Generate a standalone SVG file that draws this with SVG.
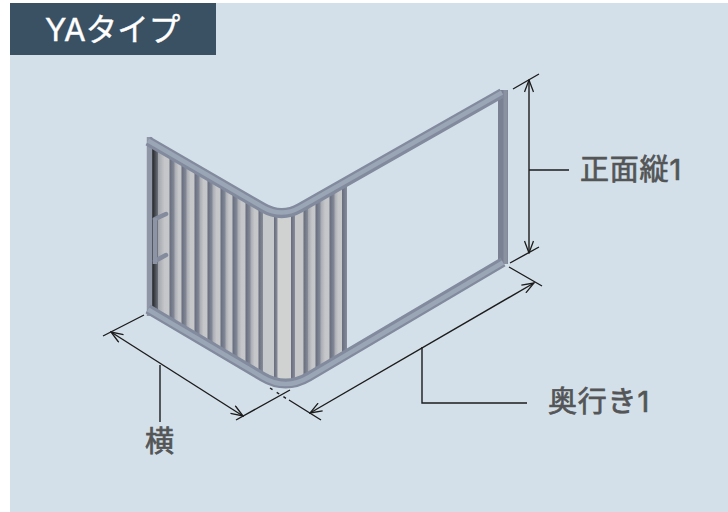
<svg xmlns="http://www.w3.org/2000/svg" width="728" height="512" viewBox="0 0 728 512">
<style>
.lbl{font-family:Inter,"Noto Sans CJK JP","Noto Sans",sans-serif;font-size:29px;font-weight:400;letter-spacing:.8px;fill:#535557;stroke:#535557;stroke-width:.7}
.ttl{font-family:Inter,"Noto Sans CJK JP","Noto Sans",sans-serif;font-size:31.5px;font-weight:400;fill:#fff;stroke:#fff;stroke-width:.4}
.dim{fill:none;stroke:#1c1c1c;stroke-width:1.4}
.arr{marker-start:url(#a);marker-end:url(#a)}
.pane{fill:url(#pg)}
.slat{fill:url(#sg)}
.f1{fill:none;stroke:#828a9d;stroke-width:10}
.f2{fill:none;stroke:#9aa5b5;stroke-width:4.5}
</style>
<defs>
<marker id="a" viewBox="0 0 14 10" refX="13" refY="5" markerWidth="14" markerHeight="10" markerUnits="userSpaceOnUse" orient="auto-start-reverse"><path d="M1,0.5 L13,5 L1,9.5" fill="none" stroke="#1c1c1c" stroke-width="1.3"/></marker>
<linearGradient id="pg"><stop offset="0" stop-color="#a2a5ac"/><stop offset=".5" stop-color="#c4c6c9"/><stop offset="1" stop-color="#c6c8ca"/></linearGradient>
<linearGradient id="sg"><stop offset="0" stop-color="#666c7c"/><stop offset="1" stop-color="#868c9a"/></linearGradient>
<linearGradient id="dk"><stop offset="0" stop-color="#1f2024"/><stop offset="1" stop-color="#6d717a"/></linearGradient>
<clipPath id="pc"><path d="M150,141 L263,207.7 Q281.4,218.400 300,207.900 L347,181 L347,352 L308.700,376.700 Q285.500,390.300 262.600,376.700 L150,309Z"/></clipPath>
<filter id="b" x="-5%" y="-5%" width="110%" height="110%"><feGaussianBlur stdDeviation="0.5"/></filter>
</defs>
<rect width="728" height="512" fill="#fff"/>
<rect x="10" y="3" width="718" height="509" fill="#d4e0e9"/>
<g id="title"><rect x="10" y="3" width="206" height="52" fill="#3a5163"/><text class="ttl" x="45" y="41">YAタイプ</text></g>
<g id="panel" filter="url(#b)">
<g clip-path="url(#pc)">
<rect x="152" y="130" width="6" height="200" fill="url(#dk)"/>
<rect class="pane" x="158" y="130" width="13" height="270"/>
<rect class="pane" x="174" y="130" width="9" height="270"/>
<rect class="pane" x="186" y="130" width="9" height="270"/>
<rect class="pane" x="199" y="130" width="9" height="270"/>
<rect class="pane" x="212" y="130" width="9" height="270"/>
<rect class="pane" x="225" y="130" width="8" height="270"/>
<rect class="pane" x="237" y="130" width="9" height="270"/>
<rect class="pane" x="250" y="130" width="9" height="270"/>
<rect x="263" y="130" width="12" height="270" fill="#c6c9cb"/>
<rect x="277" y="130" width="15" height="270" fill="#d0d2d1"/>
<rect x="295" y="130" width="9" height="270" fill="#c5c7c9"/>
<rect class="pane" x="308" y="130" width="8" height="270"/>
<rect class="pane" x="320" y="130" width="10" height="270"/>
<rect class="pane" x="334" y="130" width="8" height="270"/>
<rect class="slat" x="169.500" y="130" width="5" height="270"/>
<rect class="slat" x="181.500" y="130" width="5" height="270"/>
<rect class="slat" x="194.500" y="130" width="5" height="270"/>
<rect class="slat" x="207.500" y="130" width="5" height="270"/>
<rect class="slat" x="220.500" y="130" width="5" height="270"/>
<rect class="slat" x="232.500" y="130" width="5" height="270"/>
<rect class="slat" x="245.500" y="130" width="5" height="270"/>
<rect class="slat" x="258.500" y="130" width="4.500" height="270"/>
<rect class="slat" x="274" y="130" width="3.500" height="270"/>
<rect class="slat" x="291" y="130" width="4" height="270"/>
<rect class="slat" x="303.500" y="130" width="4.500" height="270"/>
<rect class="slat" x="315.500" y="130" width="5" height="270"/>
<rect class="slat" x="329.500" y="130" width="5" height="270"/>
<rect class="slat" x="342" y="130" width="5" height="270"/>
</g>
</g>
<g id="frame" filter="url(#b)">
<path d="M149.500,137 V316" fill="none" stroke="#8f96a5" stroke-width="5.500"/>
<path d="M503,90 V264" fill="none" stroke="#7a8192" stroke-width="10"/>
<path d="M505.500,90 V264" fill="none" stroke="#8a919f" stroke-width="4"/>
<path class="f1" d="M148,141 L263,207.700 Q281.400,218.400 300,207.900 L502,93"/>
<path class="f2" transform="translate(0,-0.500)" d="M148,141 L263,207.700 Q281.400,218.400 300,207.900 L502,93"/>
<path class="f1" d="M148,309 L262.600,376.700 Q285.500,390.300 308.700,376.700 L503,262"/>
<path class="f2" transform="translate(0,0.500)" d="M148,309 L262.600,376.700 Q285.500,390.300 308.700,376.700 L503,262"/>
<path d="M155,219 L166,214 M155,261 L166,255" fill="none" stroke="#848b9d" stroke-width="4.500" stroke-linecap="round"/>
<path d="M155,218 V264" fill="none" stroke="#8d94a6" stroke-width="4.500"/>
</g>
<g id="connectors">
<path class="dim" d="M513,89 L539,74 M510,263 L539,247"/>
<path class="dim arr" d="M529,80 V253"/>
<path class="dim" d="M529,170 H569"/>
<path class="dim" d="M509,267 L542,286 M289,400 L321,420"/>
<path class="dim arr" d="M534,283 L310,413"/>
<path class="dim" d="M422,347 V403 H527"/>
<path class="dim" d="M103,336 L144,315 M236,420 L290,390"/>
<path class="dim" d="M270,388 L287,399" stroke-dasharray="3 5"/>
<path class="dim arr" d="M111,332 L243,416"/>
<path class="dim" d="M160,365 V422"/>
</g>
<g id="labels">
<text class="lbl" x="580" y="180">正面縦1</text>
<text class="lbl" x="548" y="412">奥行き1</text>
<text class="lbl" x="145" y="452">横</text>
</g>
</svg>
